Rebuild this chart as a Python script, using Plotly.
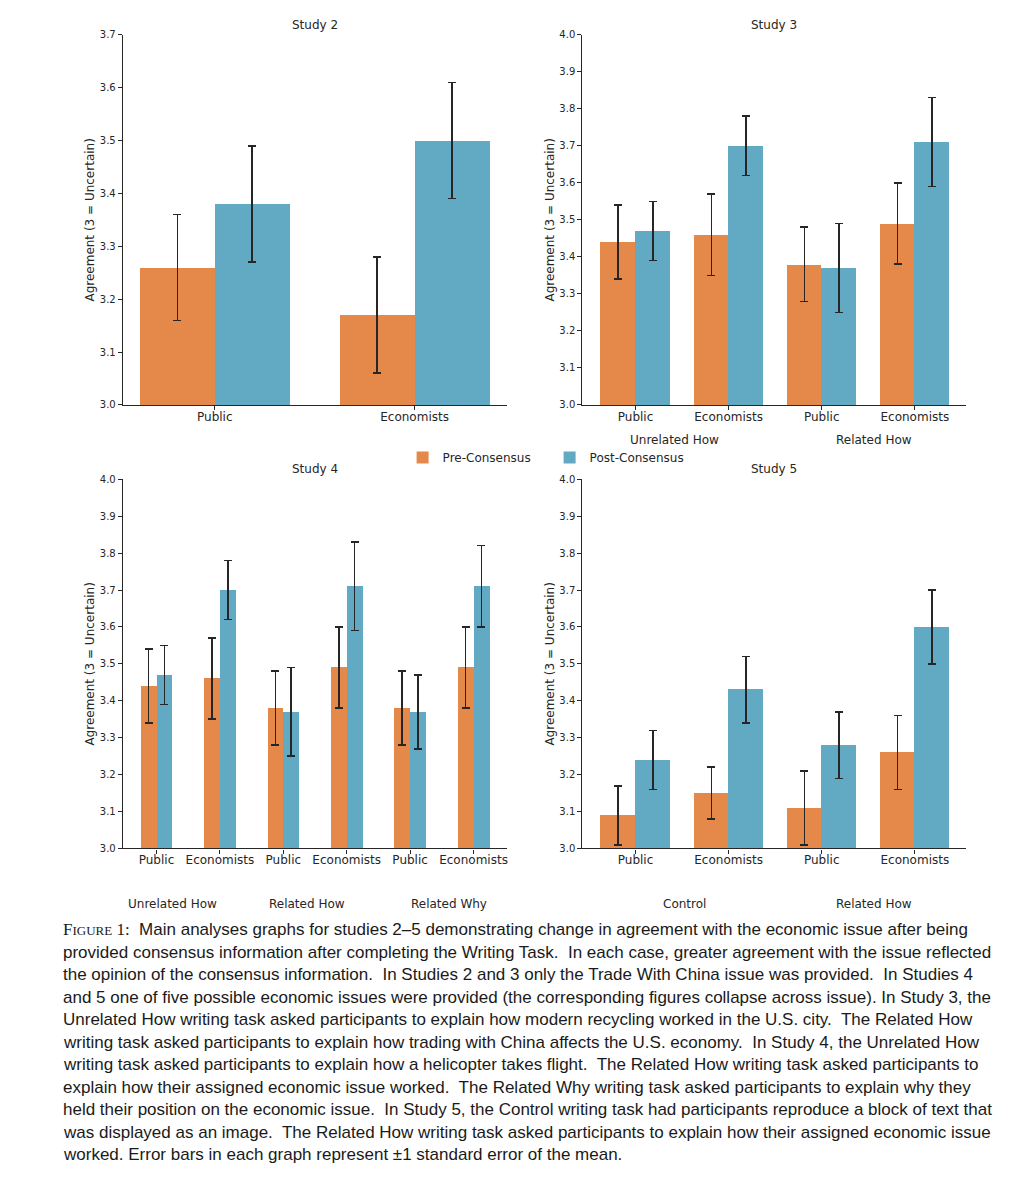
import plotly.graph_objects as go

# ---------------- data ----------------
s2_cats = ["Public", "Economists"]
s2_pre = [3.26, 3.17]
s2_pre_err = [0.10, 0.11]
s2_post = [3.38, 3.50]
s2_post_err = [0.11, 0.11]

s3_cats = ["Public", "Economists", "Public", "Economists"]
s3_groups = ["Unrelated How", "Related How"]
s3_pre = [3.44, 3.46, 3.38, 3.49]
s3_pre_err = [0.10, 0.11, 0.10, 0.11]
s3_post = [3.47, 3.70, 3.37, 3.71]
s3_post_err = [0.08, 0.08, 0.12, 0.12]

s4_cats = ["Public", "Economists", "Public", "Economists", "Public", "Economists"]
s4_groups = ["Unrelated How", "Related How", "Related Why"]
s4_pre = [3.44, 3.46, 3.38, 3.49, 3.38, 3.49]
s4_pre_err = [0.10, 0.11, 0.10, 0.11, 0.10, 0.11]
s4_post = [3.47, 3.70, 3.37, 3.71, 3.37, 3.71]
s4_post_err = [0.08, 0.08, 0.12, 0.12, 0.10, 0.11]

s5_cats = ["Public", "Economists", "Public", "Economists"]
s5_groups = ["Control", "Related How"]
s5_pre = [3.09, 3.15, 3.11, 3.26]
s5_pre_err = [0.08, 0.07, 0.10, 0.10]
s5_post = [3.24, 3.43, 3.28, 3.60]
s5_post_err = [0.08, 0.09, 0.09, 0.10]

series_names = ["Pre-Consensus", "Post-Consensus"]
titles = ["Study 2", "Study 3", "Study 4", "Study 5"]
y_title = "Agreement (3 = Uncertain)"

caption_lines = [
    "Main analyses graphs for studies 2\u20135 demonstrating change in agreement with the economic issue after being",
    "provided consensus information after completing the Writing Task.  In each case, greater agreement with the issue reflected",
    "the opinion of the consensus information.  In Studies 2 and 3 only the Trade With China issue was provided.  In Studies 4",
    "and 5 one of five possible economic issues were provided (the corresponding figures collapse across issue). In Study 3, the",
    "Unrelated How writing task asked participants to explain how modern recycling worked in the U.S. city.  The Related How",
    "writing task asked participants to explain how trading with China affects the U.S. economy.  In Study 4, the Unrelated How",
    "writing task asked participants to explain how a helicopter takes flight.  The Related How writing task asked participants to",
    "explain how their assigned economic issue worked.  The Related Why writing task asked participants to explain why they",
    "held their position on the economic issue.  In Study 5, the Control writing task had participants reproduce a block of text that",
    "was displayed as an image.  The Related How writing task asked participants to explain how their assigned economic issue",
    "worked. Error bars in each graph represent \u00b11 standard error of the mean.",
]

# ---------------- style ----------------
W, H = 1024, 1200
ORANGE = "#E5894A"
BLUE = "#62A9C4"
INK = "#262626"
FONT = "DejaVu Sans"

def px_x(p):
    return p / W

def px_y(p):
    return 1 - p / H

panels = [
    dict(cats=s2_cats, pre=s2_pre, pre_err=s2_pre_err, post=s2_post, post_err=s2_post_err,
         groups=[], gx=[], gy=None, bw=0.375, xr=[-0.46, 1.46], yr=[3.0, 3.7],
         dx=(123, 507), dy=(29, 403), ty=19),
    dict(cats=s3_cats, pre=s3_pre, pre_err=s3_pre_err, post=s3_post, post_err=s3_post_err,
         groups=s3_groups, gx=[0.42, 2.56], gy=438, bw=0.372, xr=[-0.57, 3.55], yr=[3.0, 4.0],
         dx=(583, 967), dy=(29, 403), ty=19),
    dict(cats=s4_cats, pre=s4_pre, pre_err=s4_pre_err, post=s4_post, post_err=s4_post_err,
         groups=s4_groups, gx=[0.26, 2.38, 4.62], gy=907, bw=0.25, xr=[-0.53, 5.52], yr=[3.0, 4.0],
         dx=(123, 507), dy=(478, 851), ty=468),
    dict(cats=s5_cats, pre=s5_pre, pre_err=s5_pre_err, post=s5_post, post_err=s5_post_err,
         groups=s5_groups, gx=[0.53, 2.56], gy=907, bw=0.372, xr=[-0.57, 3.55], yr=[3.0, 4.0],
         dx=(583, 967), dy=(478, 851), ty=468),
]

fig = go.Figure()
annotations = []
layout_axes = {}

for k, p in enumerate(panels):
    n = k + 1
    xa = "x" if n == 1 else f"x{n}"
    ya = "y" if n == 1 else f"y{n}"
    idx = list(range(len(p["cats"])))
    w = p["bw"]
    for j, (vals, errs, col) in enumerate([(p["pre"], p["pre_err"], ORANGE),
                                           (p["post"], p["post_err"], BLUE)]):
        off = -w / 2 if j == 0 else w / 2
        fig.add_trace(go.Bar(
            x=[i + off for i in idx], y=vals, width=w,
            marker=dict(color=col, line=dict(width=0)),
            error_y=dict(type="data", array=errs, color=INK, thickness=1.6, width=4),
            name=series_names[j], legendgroup=series_names[j],
            showlegend=(k == 0),
            xaxis=xa, yaxis=ya,
        ))
    ykey = "yaxis" if n == 1 else f"yaxis{n}"
    xkey = "xaxis" if n == 1 else f"xaxis{n}"
    ticks_y = [round(p["yr"][0] + 0.1 * t, 1) for t in range(int(round((p["yr"][1] - p["yr"][0]) / 0.1)) + 1)]
    layout_axes[xkey] = dict(
        domain=[px_x(p["dx"][0]), px_x(p["dx"][1])], anchor=ya,
        range=p["xr"], tickmode="array", tickvals=idx, ticktext=p["cats"],
        showline=True, linecolor=INK, linewidth=1.3, ticks="outside", ticklen=4,
        tickcolor=INK, tickwidth=1, showgrid=False, zeroline=False,
        ticklabelstandoff=-4,
        tickfont=dict(family=FONT, size=12, color=INK), fixedrange=True,
    )
    layout_axes[ykey] = dict(
        domain=[px_y(p["dy"][1]), px_y(p["dy"][0])], anchor=xa,
        range=p["yr"], tickmode="array", tickvals=ticks_y, tickformat=".1f",
        showline=True, linecolor=INK, linewidth=1.3, ticks="outside", ticklen=4,
        tickcolor=INK, tickwidth=1, showgrid=False, zeroline=False,
        tickfont=dict(family=FONT, size=10, color=INK),
        title=dict(text=y_title, font=dict(family=FONT, size=12, color=INK), standoff=2),
        fixedrange=True,
    )
    # subplot title
    annotations.append(dict(
        text=titles[k], xref="paper", yref="paper",
        x=px_x((p["dx"][0] + p["dx"][1]) / 2), y=px_y(p["ty"]),
        xanchor="center", yanchor="middle", showarrow=False,
        font=dict(family=FONT, size=12, color=INK)))
    # group labels
    for g, gxv in zip(p["groups"], p["gx"]):
        annotations.append(dict(
            text=g, xref=xa, yref="paper", x=gxv, y=px_y(p["gy"]),
            xanchor="center", yanchor="middle", showarrow=False,
            font=dict(family=FONT, size=12, color=INK)))

# caption
cap_y0, cap_dy = 933, 22.75
for i, line in enumerate(caption_lines):
    txt = line
    if i == 0:
        txt = ("<span style='font-family:Liberation Serif'>F</span>"
               "<span style='font-family:Liberation Serif;font-size:13px'>IGURE</span>"
               "<span style='font-family:Liberation Serif'> 1:</span>\u00a0 " + line)
    annotations.append(dict(
        text=txt, xref="paper", yref="paper", x=px_x(61), y=px_y(cap_y0 + i * cap_dy),
        xanchor="left", yanchor="middle", showarrow=False, align="left",
        font=dict(family="Liberation Sans", size=17, color="#1a1a1a")))

fig.update_layout(
    width=W, height=H, margin=dict(l=0, r=0, t=0, b=0),
    paper_bgcolor="white", plot_bgcolor="white",
    barmode="overlay", bargap=0,
    showlegend=True,
    legend=dict(orientation="h", x=px_x(403), y=px_y(456), xanchor="left", yanchor="middle",
                font=dict(family=FONT, size=12, color=INK), bgcolor="rgba(0,0,0,0)",
                entrywidth=102, traceorder="normal"),
    annotations=annotations,
    **layout_axes,
)

fig.write_html("out.html", config={"displayModeBar": False},
               post_script="document.body.style.margin='0';")
